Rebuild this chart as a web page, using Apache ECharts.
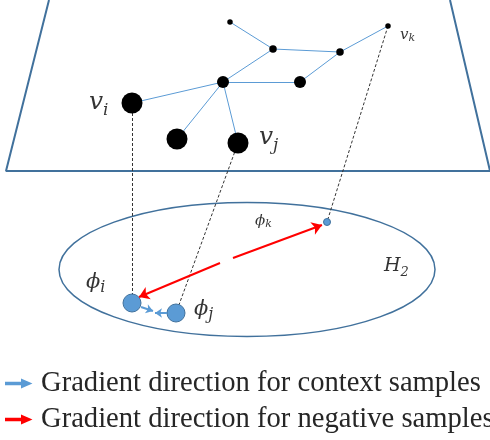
<!DOCTYPE html>
<html><head><meta charset="utf-8">
<script src="https://cdn.jsdelivr.net/npm/echarts@6/dist/echarts.min.js"></script>
<style>html,body{margin:0;padding:0;background:#fff}#c{width:490px;height:440px}</style>
</head><body><div id="c"></div>
<script>
// ---- graph in the plane ----
const nodeNames = ['n1','vk','n2','n3','hub','n5','vi','n6','vj'];
const nodeX = [230,388,273,340,223,300,132,177,238];
const nodeY = [22,26,49,52,82,82,103,139,143];
const nodeTier = [1,1,2,2,3,3,4,4,4];
const edgeFrom = ['n1','n2','n3','n2','hub','n5','hub','hub','hub'];
const edgeTo   = ['n2','n3','vk','hub','n5','n3','vi','n6','vj'];
// ---- plane outline ----
const planeX = [49,6,490,450];
const planeY = [0,171,171,0];
// ---- disc H2: centre and radii ----
const discCenter = [247,269.5];
const discRadius = [188,67];
// ---- embeddings ----
const embNames = ['phi_i','phi_j','phi_k'];
const embX = [132,176,327];
const embY = [303,313,222];
const embTier = [4,4,1];
// ---- projections node -> embedding ----
const projNode = ['vi','vj','vk'];
const projEmb = ['phi_i','phi_j','phi_k'];
// ---- gradients ----
const negStart = [[233,258],[220,263]];
const negEnd   = [[322,225],[139,297]];
const ctxStart = [[141,307],[167,313]];
const ctxEnd   = [[153,311],[155,313]];
// ---- labels ----
const labelMain = ['v','v','v','\u03D5','\u03D5','\u03D5','H'];
const labelSub  = ['i','j','k','i','j','k','2'];
const labelCls  = ['vL','vL','sm','pL','pL','sm','h'];
const labelX = [89,259,400,86,194,255,384];
const labelY = [102,137,35.5,283,310,221,266];
// ---- legend ----
const ctxName = 'Gradient direction for context samples';
const negName = 'Gradient direction for negative samples';
const legendNames = [ctxName, negName];
const legendColors = ['#5B9BD5', '#FF0000'];

const tierSize = {1:5.5, 2:7.5, 3:12, 4:21};
const embSize = {1:7, 4:18};
const nodeIndex = Object.fromEntries(nodeNames.map((n,i)=>[n,i]));
const embIndex = Object.fromEntries(embNames.map((n,i)=>[n,i]));

const mathFont = 'DejaVu Serif';
const rich = {
  vL:{fontSize:25,fontStyle:'italic',fontFamily:mathFont,color:'#000'},
  vLs:{fontSize:17,fontStyle:'italic',fontFamily:mathFont,color:'#000',padding:[18,0,0,0]},
  pL:{fontSize:21,fontStyle:'italic',fontFamily:mathFont,color:'#000'},
  pLs:{fontSize:16,fontStyle:'italic',fontFamily:mathFont,color:'#000',padding:[10,0,0,0]},
  sm:{fontSize:15,fontStyle:'italic',fontFamily:mathFont,color:'#000'},
  sms:{fontSize:11,fontStyle:'italic',fontFamily:mathFont,color:'#000',padding:[6,0,0,0]},
  h:{fontSize:19,fontStyle:'italic',fontFamily:mathFont,color:'#000'},
  hs:{fontSize:13,fontStyle:'italic',fontFamily:mathFont,color:'#000',padding:[14,0,0,0]}
};
const arrowIcon = 'path://M0,2.8 L16,2.8 L16,0 L24,3.5 L16,7 L16,4.2 L0,4.2 Z';

const chart = echarts.init(document.getElementById('c'), null, {renderer:'canvas'});
chart.setOption({
  animation:false,
  grid:{left:0,right:0,top:0,bottom:0},
  xAxis:{type:'value',min:0,max:490,show:false},
  yAxis:{type:'value',min:0,max:440,inverse:true,show:false},
  legend:legendNames.map((n,i)=>({
    orient:'horizontal',left:5,top:369+i*36,itemWidth:24,itemHeight:7,padding:0,
    selectedMode:false,
    textStyle:{fontFamily:'Liberation Serif',fontSize:28.6,color:'#262626',padding:[0,0,0,6]},
    data:[{name:n,icon:arrowIcon,itemStyle:{color:legendColors[i]}}]
  })),
  series:[
    {type:'line',name:'plane',z:1,symbol:'none',silent:true,
     lineStyle:{color:'#41719C',width:2},
     data:planeX.map((x,i)=>[x,planeY[i]])},
    {type:'custom',name:'disc',z:1,silent:true,
     renderItem:(params,api)=>{
       const c = api.coord([api.value(0),api.value(1)]);
       const s = api.size([api.value(2),api.value(3)]);
       return {type:'ellipse',shape:{cx:c[0],cy:c[1],rx:Math.abs(s[0]),ry:Math.abs(s[1])},
               style:{fill:null,stroke:'#41719C',lineWidth:1.5}};
     },
     data:[[discCenter[0],discCenter[1],discRadius[0],discRadius[1]]]},
    {type:'lines',name:'projection',coordinateSystem:'cartesian2d',z:2,silent:true,
     lineStyle:{color:'#333',width:1,type:[3,2],opacity:1},
     data:projNode.map((n,i)=>{const a=nodeIndex[n], b=embIndex[projEmb[i]];
       return {coords:[[nodeX[a],nodeY[a]],[embX[b],embY[b]]]};})},
    {type:'graph',name:'graph',coordinateSystem:'cartesian2d',layout:'none',z:3,silent:true,
     symbol:'circle',itemStyle:{color:'#000'},
     lineStyle:{color:'#5B9BD5',width:1,opacity:1},
     data:nodeNames.map((n,i)=>({name:n,value:[nodeX[i],nodeY[i]],symbolSize:tierSize[nodeTier[i]]})),
     links:edgeFrom.map((s,i)=>({source:s,target:edgeTo[i]}))},
    {type:'scatter',name:'embedding',z:4,silent:true,
     itemStyle:{color:'#5B9BD5',borderColor:'#41719C',borderWidth:1,opacity:1},
     data:embNames.map((n,i)=>({value:[embX[i],embY[i]],symbolSize:embSize[embTier[i]]}))},
    {type:'lines',name:negName,coordinateSystem:'cartesian2d',z:5,silent:true,
     symbol:['none','arrow'],symbolSize:10,
     lineStyle:{color:'#FF0000',width:2,opacity:1},itemStyle:{color:'#FF0000'},
     data:negStart.map((s,i)=>({coords:[s,negEnd[i]]}))},
    {type:'lines',name:ctxName,coordinateSystem:'cartesian2d',z:5,silent:true,
     symbol:['none','arrow'],symbolSize:7,
     lineStyle:{color:'#5B9BD5',width:2,opacity:1},itemStyle:{color:'#5B9BD5'},
     data:ctxStart.map((s,i)=>({coords:[s,ctxEnd[i]]}))},
    {type:'scatter',name:'labels',z:6,silent:true,symbolSize:0,
     label:{show:true,position:'inside',align:'left',verticalAlign:'middle',
       formatter:(p)=>{const i=p.dataIndex; const c=labelCls[i];
         return '{'+c+'|'+labelMain[i]+'}{'+c+'s|'+labelSub[i]+'}';},
       rich:rich},
     data:labelX.map((x,i)=>[x,labelY[i]])}
  ]
});
</script></body></html>
